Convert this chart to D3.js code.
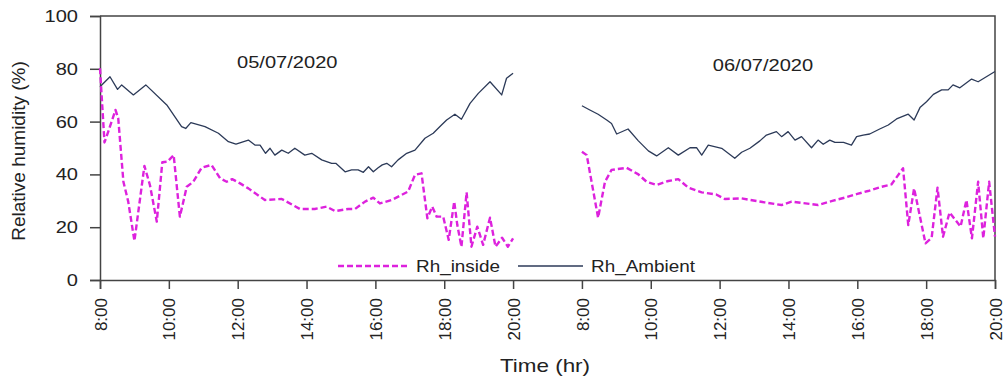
<!DOCTYPE html>
<html>
<head>
<meta charset="utf-8">
<script src="https://cdn.jsdelivr.net/npm/d3@7"></script>
<style>
  body { margin: 0; background: #fff; }
  svg { display: block; font-family: "Liberation Sans", Arial, sans-serif; }
</style>
</head>
<body>
<div id="chart"></div>
<script>
// tick labels along the bottom (two days, 2 h apart, one empty slot for the night)
var timeLabels = ["8:00", "10:00", "12:00", "14:00", "16:00", "18:00", "20:00",
                  "8:00", "10:00", "12:00", "14:00", "16:00", "18:00", "20:00"];
var dayLabels = ["05/07/2020", "06/07/2020"];
var yTicks = [0, 20, 40, 60, 80, 100];

// [hour of day, RH %]
var insideDay1 = [[8.0,80.2],[8.13,52.1],[8.24,56.2],[8.45,64.4],[8.53,61.2],[8.68,37.2],[8.82,29.7],[9.0,14.8],
  [9.29,43.2],[9.45,36],[9.65,22.1],[9.81,44.6],[9.96,44.8],[10.14,47.3],[10.32,24],[10.52,35.3],[10.71,37.2],
  [10.95,42.5],[11.24,43.6],[11.49,38.5],[11.68,37.2],[11.84,38.2],[12.07,36.6],[12.31,34.7],[12.79,30.3],
  [13.28,30.7],[13.81,26.9],[14.24,26.9],[14.58,27.8],[14.83,26.1],[15.21,26.9],[15.41,26.9],[15.7,29.7],
  [15.94,31.2],[16.13,29],[16.47,30.3],[16.95,33.5],[17.15,39.8],[17.34,40.4],[17.51,23.4],[17.65,27.8],
  [17.78,24],[17.97,24],[18.13,15.2],[18.29,29.7],[18.38,20.8],[18.5,12.6],[18.65,33.2],[18.79,12.6],
  [18.96,20.2],[19.13,13.3],[19.33,23.6],[19.49,12.6],[19.68,16],[19.85,12.6],[20.0,15.8]];

var ambientDay1 = [[8.0,73.2],[8.29,77],[8.51,72.2],[8.63,73.9],[8.97,70.1],[9.33,73.9],[9.94,66.3],[10.37,58.1],
  [10.49,57.4],[10.64,59.6],[11.05,58.1],[11.44,55.6],[11.73,52.4],[11.95,51.5],[12.31,53],[12.5,51.1],
  [12.65,51.1],[12.81,48],[12.94,49.9],[13.08,47.3],[13.28,49.2],[13.47,48],[13.66,49.9],[13.95,47.3],
  [14.15,48],[14.44,45.5],[14.73,44.2],[14.85,44.2],[15.12,41],[15.31,41.7],[15.5,41.7],[15.65,40.8],
  [15.8,42.9],[15.94,41],[16.08,42.5],[16.2,43.6],[16.33,44.2],[16.47,42.9],[16.66,45.5],[16.91,48],
  [17.15,49.2],[17.44,53.7],[17.68,55.6],[17.92,58.7],[18.07,60.6],[18.31,62.8],[18.5,60.9],[18.75,66.9],
  [18.99,70.7],[19.33,75.1],[19.67,70.1],[19.81,76.4],[20.0,78.3]];

var insideDay2 = [[8.0,48.6],[8.14,47.3],[8.47,23.6],[8.67,37.2],[8.86,41.7],[9.3,42.5],[9.64,40],[9.88,37.2],
  [10.17,36],[10.51,37.5],[10.8,38.2],[11.09,35],[11.48,33.2],[11.9,32.4],[12.15,30.7],[12.64,30.9],
  [13.31,29.4],[13.8,28.4],[14.09,29.7],[14.86,28.4],[15.25,29.9],[15.64,31.2],[16.0,32.6],[16.31,33.7],
  [16.7,35.3],[16.99,36.2],[17.33,42.3],[17.48,20.8],[17.65,34.7],[17.98,13.9],[18.16,16],[18.33,35],
  [18.49,16.4],[18.68,25.6],[19.0,20.2],[19.17,30.3],[19.33,15.8],[19.51,37.2],[19.66,15.8],[19.83,37.2],
  [20.0,16.4]];

var ambientDay2 = [[8.0,66],[8.23,64.4],[8.47,62.8],[8.72,60.6],[8.86,59.3],[9.01,55.3],[9.34,57.2],[9.64,52.7],
  [9.93,48.9],[10.17,47],[10.51,50.1],[10.8,47.3],[11.14,50.1],[11.33,50.1],[11.48,47.3],[11.67,51.1],
  [12.06,49.9],[12.44,46.1],[12.64,48.4],[12.88,49.9],[13.17,52.7],[13.36,54.9],[13.65,56.2],[13.8,54.3],
  [13.99,56.2],[14.19,53],[14.38,54.3],[14.67,50.1],[14.86,53],[15.01,51.4],[15.2,53],[15.35,52.1],
  [15.6,52.1],[15.83,51.1],[15.98,54.3],[16.17,54.9],[16.36,55.3],[16.65,57.2],[16.9,58.7],[17.14,61],
  [17.48,62.8],[17.65,60.6],[17.82,65.3],[18.01,67.5],[18.21,70.3],[18.45,72],[18.64,72],[18.78,73.9],
  [18.98,72.8],[19.32,76.1],[19.51,75.1],[20.0,79]];

var W = 1005, H = 382;
var margin = { top: 16, right: 10, bottom: 102, left: 100 };
var width = W - margin.left - margin.right,
    height = H - margin.top - margin.bottom;
// the picture is a bit wider than its text, so stretch horizontal labels
var stretch = 1.18;

var svg = d3.select("#chart").append("svg")
    .attr("width", W).attr("height", H)
  .append("g")
    .attr("transform", "translate(" + margin.left + "," + margin.top + ")");

// one slot = 2 hours; day 2 starts at slot 7
var x = d3.scaleLinear().domain([0, timeLabels.length - 1]).range([0, width]);
var y = d3.scaleLinear().domain([0, 100]).range([height, 0]);
var slot = function(day, hour) { return x((day - 1) * 7 + (hour - 8) / 2); };

// frame (top and right)
svg.append("path")
    .attr("d", "M0," + y(100) + "H" + x(13) + "V" + y(0))
    .attr("fill", "none").attr("stroke", "#444").attr("stroke-width", 1.5);

var yAxis = svg.append("g")
    .call(d3.axisLeft(y).tickValues(yTicks).tickSize(10).tickPadding(12));
var xAxis = svg.append("g")
    .attr("transform", "translate(0," + height + ")")
    .call(d3.axisBottom(x).tickValues(d3.range(timeLabels.length)).tickSize(9)
        .tickFormat(function(d) { return timeLabels[d]; }));

[yAxis, xAxis].forEach(function(a) {
    a.selectAll("path, line").attr("stroke", "#444").attr("stroke-width", 1.5);
    a.selectAll("text").attr("fill", "#222").style("font-size", "17px")
        .style("font-family", '"Liberation Sans", Arial, sans-serif');
});
xAxis.selectAll("text")
    .attr("transform", "rotate(-90)")
    .attr("text-anchor", "end")
    .attr("x", -18).attr("y", 0).attr("dy", "0.36em");

// lines
var line = function(day) {
    return d3.line().x(function(d) { return slot(day, d[0]); }).y(function(d) { return y(d[1]); });
};
var series = [
    { data: ambientDay1, day: 1, kind: "amb" }, { data: ambientDay2, day: 2, kind: "amb" },
    { data: insideDay1, day: 1, kind: "in" }, { data: insideDay2, day: 2, kind: "in" }
];
series.forEach(function(s) {
    svg.append("path")
        .datum(s.data)
        .attr("fill", "none")
        .attr("stroke", s.kind == "in" ? "#dd22dd" : "#2c3a58")
        .attr("stroke-width", s.kind == "in" ? 2.4 : 1.3)
        .attr("stroke-dasharray", s.kind == "in" ? "6,3" : null)
        .attr("stroke-linejoin", "round")
        .attr("d", line(s.day));
});

// day titles, placed at the hour they sit over
var dayTitleHour = [13.44, 13.26];
svg.selectAll(".day")
    .data(dayLabels)
    .enter().append("text")
    .attr("class", "stretch")
    .attr("x", function(d, i) { return slot(i + 1, dayTitleHour[i]); })
    .attr("y", function(d, i) { return i == 0 ? 52 : 55; })
    .attr("text-anchor", "middle")
    .style("font-size", "17px").attr("fill", "#222")
    .text(function(d) { return d; });

// legend
var legend = [
    { name: "Rh_inside", x0: 238, x1: 308, kind: "in" },
    { name: "Rh_Ambient", x0: 418, x1: 483, kind: "amb" }
];
legend.forEach(function(l) {
    svg.append("line")
        .attr("x1", l.x0).attr("x2", l.x1).attr("y1", 250).attr("y2", 250)
        .attr("stroke", l.kind == "in" ? "#dd22dd" : "#2c3a58")
        .attr("stroke-width", l.kind == "in" ? 2.4 : 1.3)
        .attr("stroke-dasharray", l.kind == "in" ? "6,3" : null);
    svg.append("text")
        .attr("class", "stretch")
        .attr("x", l.x1 + 8).attr("y", 256)
        .style("font-size", "16px").attr("fill", "#222")
        .text(l.name);
});

// axis titles
svg.append("text")
    .attr("class", "stretch")
    .attr("x", 445).attr("y", 356)
    .attr("text-anchor", "middle")
    .style("font-size", "19px").attr("fill", "#222")
    .text("Time (hr)");
svg.append("text")
    .attr("transform", "translate(-75," + (height / 2 + 3) + ")rotate(-90)")
    .attr("text-anchor", "middle")
    .style("font-size", "19px").attr("fill", "#222")
    .text("Relative humidity (%)");

// widen horizontal texts to match the reference
yAxis.selectAll("text").classed("stretch", true);
d3.selectAll("text.stretch").each(function() {
    var len = this.getComputedTextLength();
    d3.select(this).attr("textLength", len * stretch).attr("lengthAdjust", "spacingAndGlyphs");
});
</script>
</body>
</html>
